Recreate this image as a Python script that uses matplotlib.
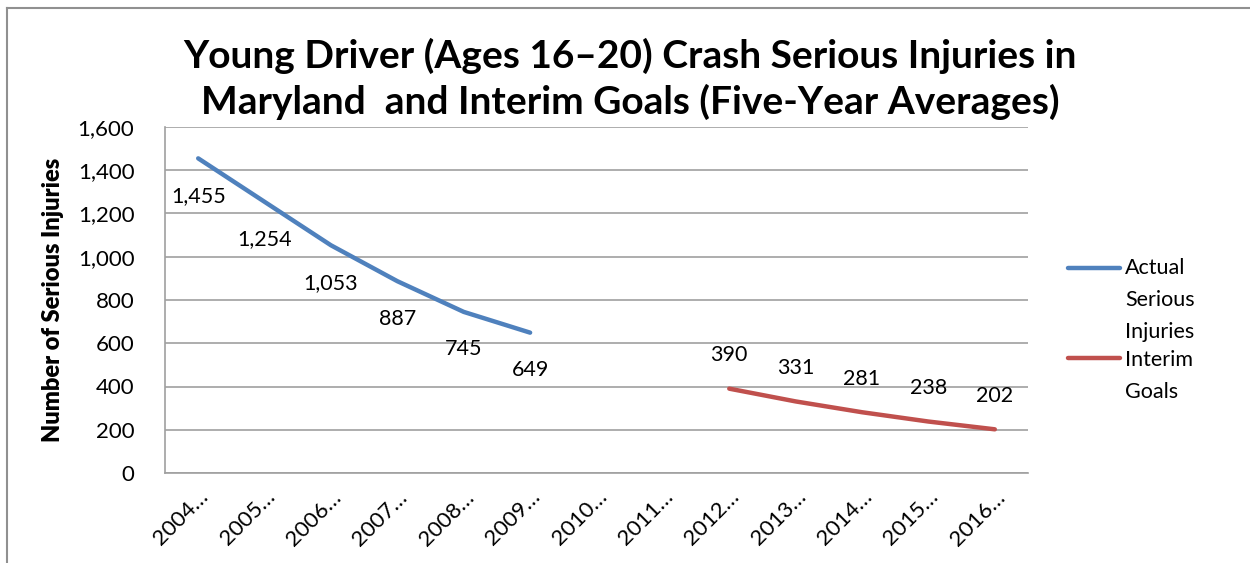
import matplotlib
matplotlib.use("Agg")
import matplotlib.pyplot as plt
from matplotlib.lines import Line2D
import numpy as np

categories = ["2004…", "2005…", "2006…", "2007…", "2008…", "2009…", "2010…",
              "2011…", "2012…", "2013…", "2014…", "2015…", "2016…"]
actual_idx = [0, 1, 2, 3, 4, 5]
actual_vals = [1455, 1254, 1053, 887, 745, 649]
goal_idx = [8, 9, 10, 11, 12]
goal_vals = [390, 331, 281, 238, 202]
yticks = [0, 200, 400, 600, 800, 1000, 1200, 1400, 1600]

plt.rcParams['font.family'] = ['Lato', 'DejaVu Sans']
W, H = 1250, 563
fig = plt.figure(figsize=(W/100, H/100), dpi=100)
ax = fig.add_axes([165/W, 1-473/H, (1028-165)/W, (473-127)/H])

blue = '#4F81BD'
red = '#C0504D'
ax.plot(actual_idx, actual_vals, color=blue, lw=3.2, solid_capstyle='round')
ax.plot(goal_idx, goal_vals, color=red, lw=3.2, solid_capstyle='round')

fs = 15.5
for i, v in zip(actual_idx, actual_vals):
    ax.annotate(f"{v:,}", (i, v), xytext=(0, -27), textcoords='offset points',
                ha='center', va='center', fontsize=fs)
for i, v in zip(goal_idx, goal_vals):
    ax.annotate(f"{v:,}", (i, v), xytext=(0, 24), textcoords='offset points',
                ha='center', va='center', fontsize=fs)

ax.set_xlim(-0.5, len(categories)-0.5)
ax.set_ylim(0, 1600)
ax.set_yticks(yticks)
ax.set_yticklabels([f"{t:,}" for t in yticks], fontsize=16)
ax.set_xticks(range(len(categories)))
ax.set_xticklabels(categories, rotation=45, ha='right', rotation_mode='anchor', fontsize=16)
ax.tick_params(axis='both', length=0)
ax.tick_params(axis='y', pad=22)
ax.tick_params(axis='x', pad=10)
ax.grid(axis='y', color='#A0A0A0', lw=1.2)
ax.set_axisbelow(True)
for s in ['top', 'right']:
    ax.spines[s].set_visible(False)
for s in ['left', 'bottom']:
    ax.spines[s].set_color('#A0A0A0')
    ax.spines[s].set_linewidth(1.2)

ax.set_ylabel("Number of Serious Injuries", fontsize=17, fontweight='heavy', labelpad=10)

fig.text(630/W, 1-79/H, "Young Driver (Ages 16–20) Crash Serious Injuries in\nMaryland  and Interim Goals (Five-Year Averages)",
         ha='center', va='center', fontsize=28, fontweight='bold', linespacing=1.35)

# legend
fig.add_artist(Line2D([1068/W, 1120/W], [1-268/H, 1-268/H], color=blue, lw=3.2, solid_capstyle='round'))
fig.add_artist(Line2D([1068/W, 1120/W], [1-358/H, 1-358/H], color=red, lw=3.2, solid_capstyle='round'))
for txt, y in [("Actual", 268), ("Serious", 300), ("Injuries", 332), ("Interim", 360), ("Goals", 392)]:
    fig.text(1125/W, 1-y/H, txt, ha='left', va='center', fontsize=fs)

# outer border
fig.add_artist(Line2D([7/W, 7/W], [0, 1-8/H], color='#909090', lw=1.5))
fig.add_artist(Line2D([7/W, 1], [1-8/H, 1-8/H], color='#909090', lw=1.5))

fig.savefig("out.png", dpi=100)
